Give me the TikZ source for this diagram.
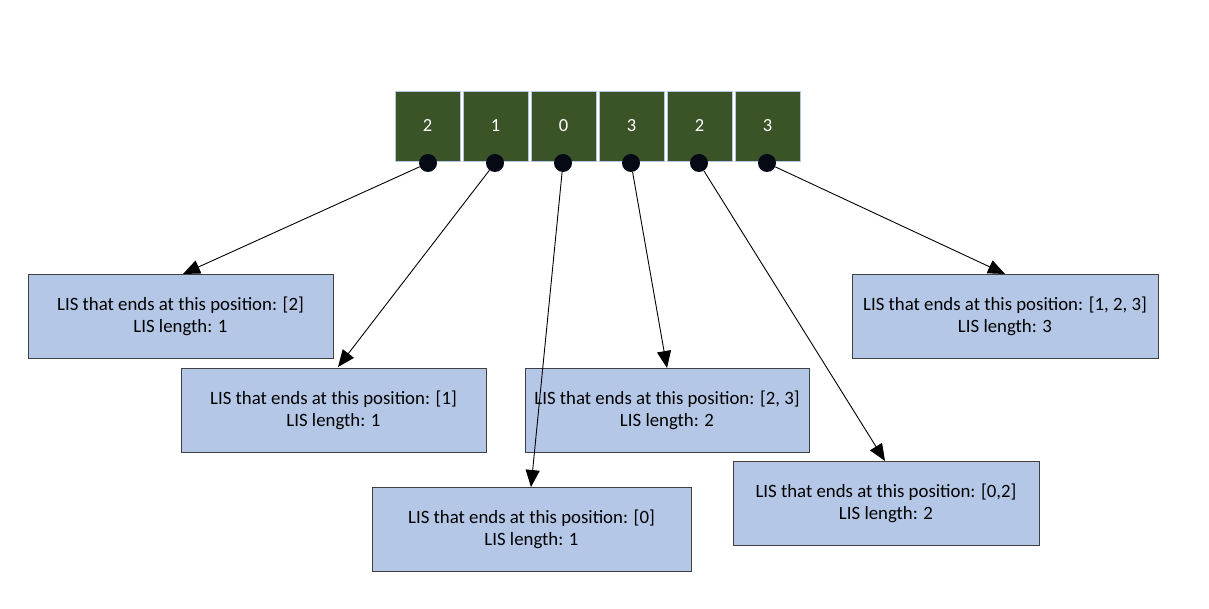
\documentclass[tikz,border=0pt]{standalone}
\usepackage{fontspec}
\setmainfont{Carlito}
\usetikzlibrary{arrows.meta}
\definecolor{sqgreen}{HTML}{3A5428}
\definecolor{sqedge}{HTML}{B4C7E7}
\definecolor{boxfill}{HTML}{B4C7E7}
\definecolor{boxedge}{HTML}{404040}
\definecolor{dotcol}{HTML}{050A14}
\begin{document}
\begin{tikzpicture}[x=1pt,y=-1pt,
  sq/.style={draw=sqedge,line width=0.8pt,fill=sqgreen,minimum width=65pt,minimum height=70pt,inner sep=0pt,text=white,font=\fontsize{18.5}{22}\selectfont},
  dotn/.style={circle,fill=dotcol,minimum size=18pt,inner sep=0pt},
  lisbox/.style={draw=boxedge,line width=0.8pt,fill=boxfill,inner sep=0pt,align=center,font=\fontsize{18.8}{22}\selectfont},
  arr/.style={line width=0.9pt,-{Triangle[length=17pt,width=14pt]}}]
\useasboundingbox (0,0) rectangle (1209,609);
\fill[white] (0,0) rectangle (1209,609);
% squares
\node[sq] (s1) at (427.5,126) {2};
\node[sq] (s2) at (495.5,126) {1};
\node[sq] (s3) at (563.5,126) {0};
\node[sq] (s4) at (631.5,126) {3};
\node[sq] (s5) at (699.5,126) {2};
\node[sq] (s6) at (767.5,126) {3};
% boxes
\node[lisbox,minimum width=305pt,minimum height=84pt] (b1) at (180.5,316) {LIS that ends at this position: [2]\\LIS length: 1};
\node[lisbox,minimum width=305pt,minimum height=84pt] (b2) at (333.5,410) {LIS that ends at this position: [1]\\LIS length: 1};
\node[lisbox,minimum width=319pt,minimum height=84pt] (b3) at (531.5,529) {LIS that ends at this position: [0]\\LIS length: 1};
\node[lisbox,minimum width=284pt,minimum height=84pt] (b4) at (667,410) {LIS that ends at this position: [2, 3]\\LIS length: 2};
\node[lisbox,minimum width=306pt,minimum height=84pt] (b5) at (886,503) {LIS that ends at this position: [0,2]\\LIS length: 2};
\node[lisbox,minimum width=306pt,minimum height=84pt] (b6) at (1005,316) {LIS that ends at this position: [1, 2, 3]\\LIS length: 3};
% dots
\node[dotn] (d1) at (428,163) {};
\node[dotn] (d2) at (495,163) {};
\node[dotn] (d3) at (563,163) {};
\node[dotn] (d4) at (631,163) {};
\node[dotn] (d5) at (699,163) {};
\node[dotn] (d6) at (767,163) {};
% arrows
\coordinate (t1) at (183,274);
\coordinate (t2) at (338,367);
\coordinate (t3) at (531,487);
\coordinate (t4) at (667,368);
\coordinate (t5) at (885,461);
\coordinate (t6) at (1005,274);
\draw[arr] (d1) -- (t1);
\draw[arr] (d2) -- (t2);
\draw[arr] (d3) -- (t3);
\draw[arr] (d4) -- (t4);
\draw[arr] (d5) -- (t5);
\draw[arr] (d6) -- (t6);
\end{tikzpicture}
\end{document}
